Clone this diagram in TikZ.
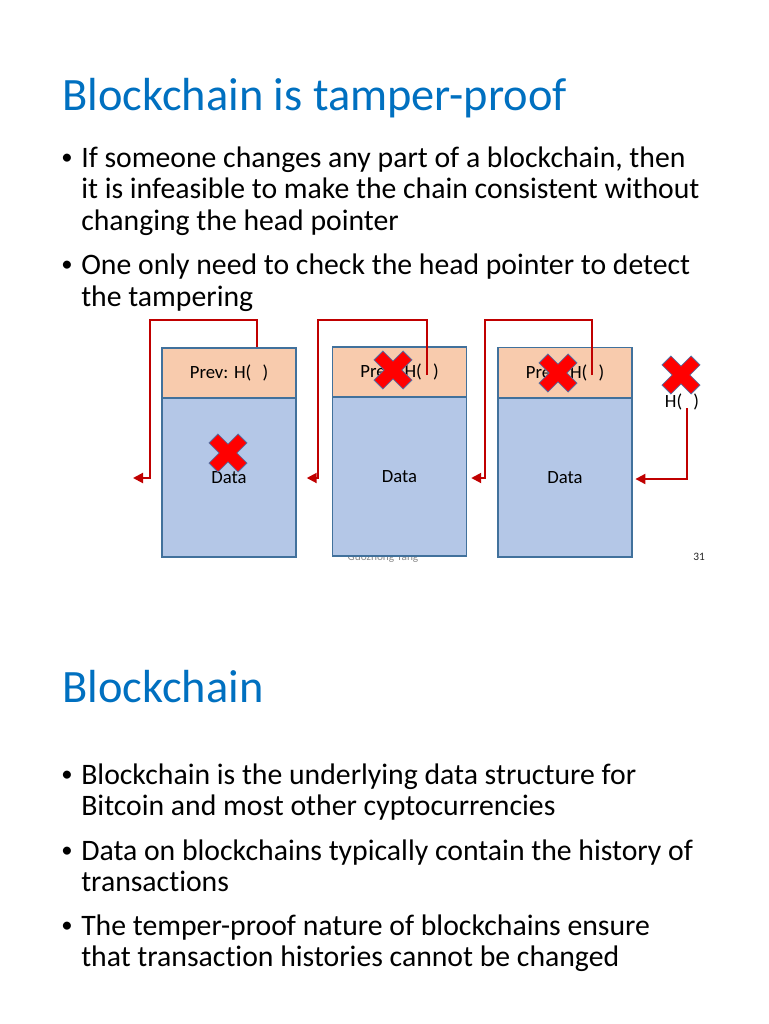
\documentclass[tikz,border=0pt]{standalone}
\usepackage{fontspec}
\setmainfont[Ligatures=NoCommon]{Carlito}
\usetikzlibrary{arrows.meta}
\definecolor{ttl}{RGB}{0,112,192}
\definecolor{redl}{RGB}{192,0,0}
\definecolor{edgeb}{RGB}{65,113,156}
\definecolor{prevf}{RGB}{248,203,173}
\definecolor{dataf}{RGB}{180,199,231}
\definecolor{crossr}{RGB}{255,0,0}
\definecolor{crosse}{RGB}{90,110,160}
\tikzset{
  title/.style={anchor=base west,inner sep=0pt,text=ttl,font=\fontsize{34.8}{40}\selectfont},
  body/.style={anchor=base west,inner sep=0pt,font=\fontsize{22.3}{26}\selectfont},
  bul/.style={anchor=base west,inner sep=0pt,font=\fontsize{17}{20}\selectfont},
  prevbox/.style={draw=edgeb,line width=1.1pt,fill=prevf,minimum width=100.5pt,minimum height=37.5pt,inner sep=0pt,font=\fontsize{14}{16}\selectfont},
  databox/.style={draw=edgeb,line width=1.1pt,fill=dataf,minimum width=100.5pt,minimum height=119pt,inner sep=0pt,font=\fontsize{14}{16}\selectfont},
  link/.style={draw=redl,line width=1.5pt,-{Triangle[length=7.5pt,width=7.5pt]}},
  xcross/.style={fill=crossr,draw=crosse,line width=0.6pt},
  small/.style={inner sep=0pt,font=\fontsize{8.5}{10}\selectfont}
}
\newcommand{\xmk}[2]{\path[xcross,shift={(#1,#2)},rotate=45] (6.3,20.5)--(6.3,6.3)--(20.5,6.3)--(20.5,-6.3)--(6.3,-6.3)--(6.3,-20.5)--(-6.3,-20.5)--(-6.3,-6.3)--(-20.5,-6.3)--(-20.5,6.3)--(-6.3,6.3)--(-6.3,20.5)--cycle;}
\newcommand{\bu}{\raisebox{1.6pt}{•}}
\begin{document}
\begin{tikzpicture}[x=0.75pt,y=-0.75pt]
\useasboundingbox (0,0) rectangle (768,1024);
\fill[white] (0,0) rectangle (768,1024);
% slide 1
\node[title] (t1) at (62,110) {Blockchain is tamper-proof};
\node[bul] (b1) at (61,167) {\bu};
\node[body] (l1) at (81,167) {If someone changes any part of a blockchain, then};
\node[body] (l2) at (81,198) {it is infeasible to make the chain consistent without};
\node[body] (l3) at (81,230) {changing the head pointer};
\node[bul] (b2) at (61,274) {\bu};
\node[body] (l4) at (81,274) {One only need to check the head pointer to detect};
\node[body] (l5) at (81,306) {the tampering};
% footer behind boxes
\node[small,text=black!45] (foot) at (383,558) {Guozhong Yang};
\node[small,text=black!85] (pg) at (699,557) {31};
% blocks
\node[prevbox] (p1) at (229,373) {Prev: H(\hspace{0.6em})};
\node[databox] (d1) at (229,477.5) {Data};
\node[prevbox] (p2) at (399.5,372) {Prev: H(\hspace{0.6em})};
\node[databox] (d2) at (399.5,476.5) {Data};
\node[prevbox] (p3) at (565,372.5) {Prev: H(\hspace{0.6em})};
\node[databox] (d3) at (565,477.5) {Data};
\node[inner sep=0pt,font=\fontsize{14}{16}\selectfont] (h) at (682,402) {H(\hspace{0.6em})};
% connectors
\coordinate (e0) at (133,478);
\coordinate (s2) at (427,375);
\coordinate (s3) at (592,375);
\coordinate (s4) at (687,408);
\draw[link] (p1.north -| 257,0) |- (150,320) |- (e0);
\draw[link,shorten >=7.5pt] (s2) |- (318,320) |- (d1.east |- 0,478);
\draw[link,shorten >=3pt] (s3) |- (485,320) |- (d2.east |- 0,478);
\draw[link,shorten >=2pt] (s4) |- (d3.east |- 0,479);
% crosses
\xmk{228}{453}
\xmk{393}{370}
\xmk{558}{373}
\xmk{681}{375}
% slide 2
\node[title] (t2) at (62,702) {Blockchain};
\node[bul] (b3) at (61,784) {\bu};
\node[body] (m1) at (81,784) {Blockchain is the underlying data structure for};
\node[body] (m2) at (81,815) {Bitcoin and most other cyptocurrencies};
\node[bul] (b4) at (61,860) {\bu};
\node[body] (m3) at (81,860) {Data on blockchains typically contain the history of};
\node[body] (m4) at (81,891) {transactions};
\node[bul] (b5) at (61,935) {\bu};
\node[body] (m5) at (81,935) {The temper-proof nature of blockchains ensure};
\node[body] (m6) at (81,966) {that transaction histories cannot be changed};
\end{tikzpicture}
\end{document}
